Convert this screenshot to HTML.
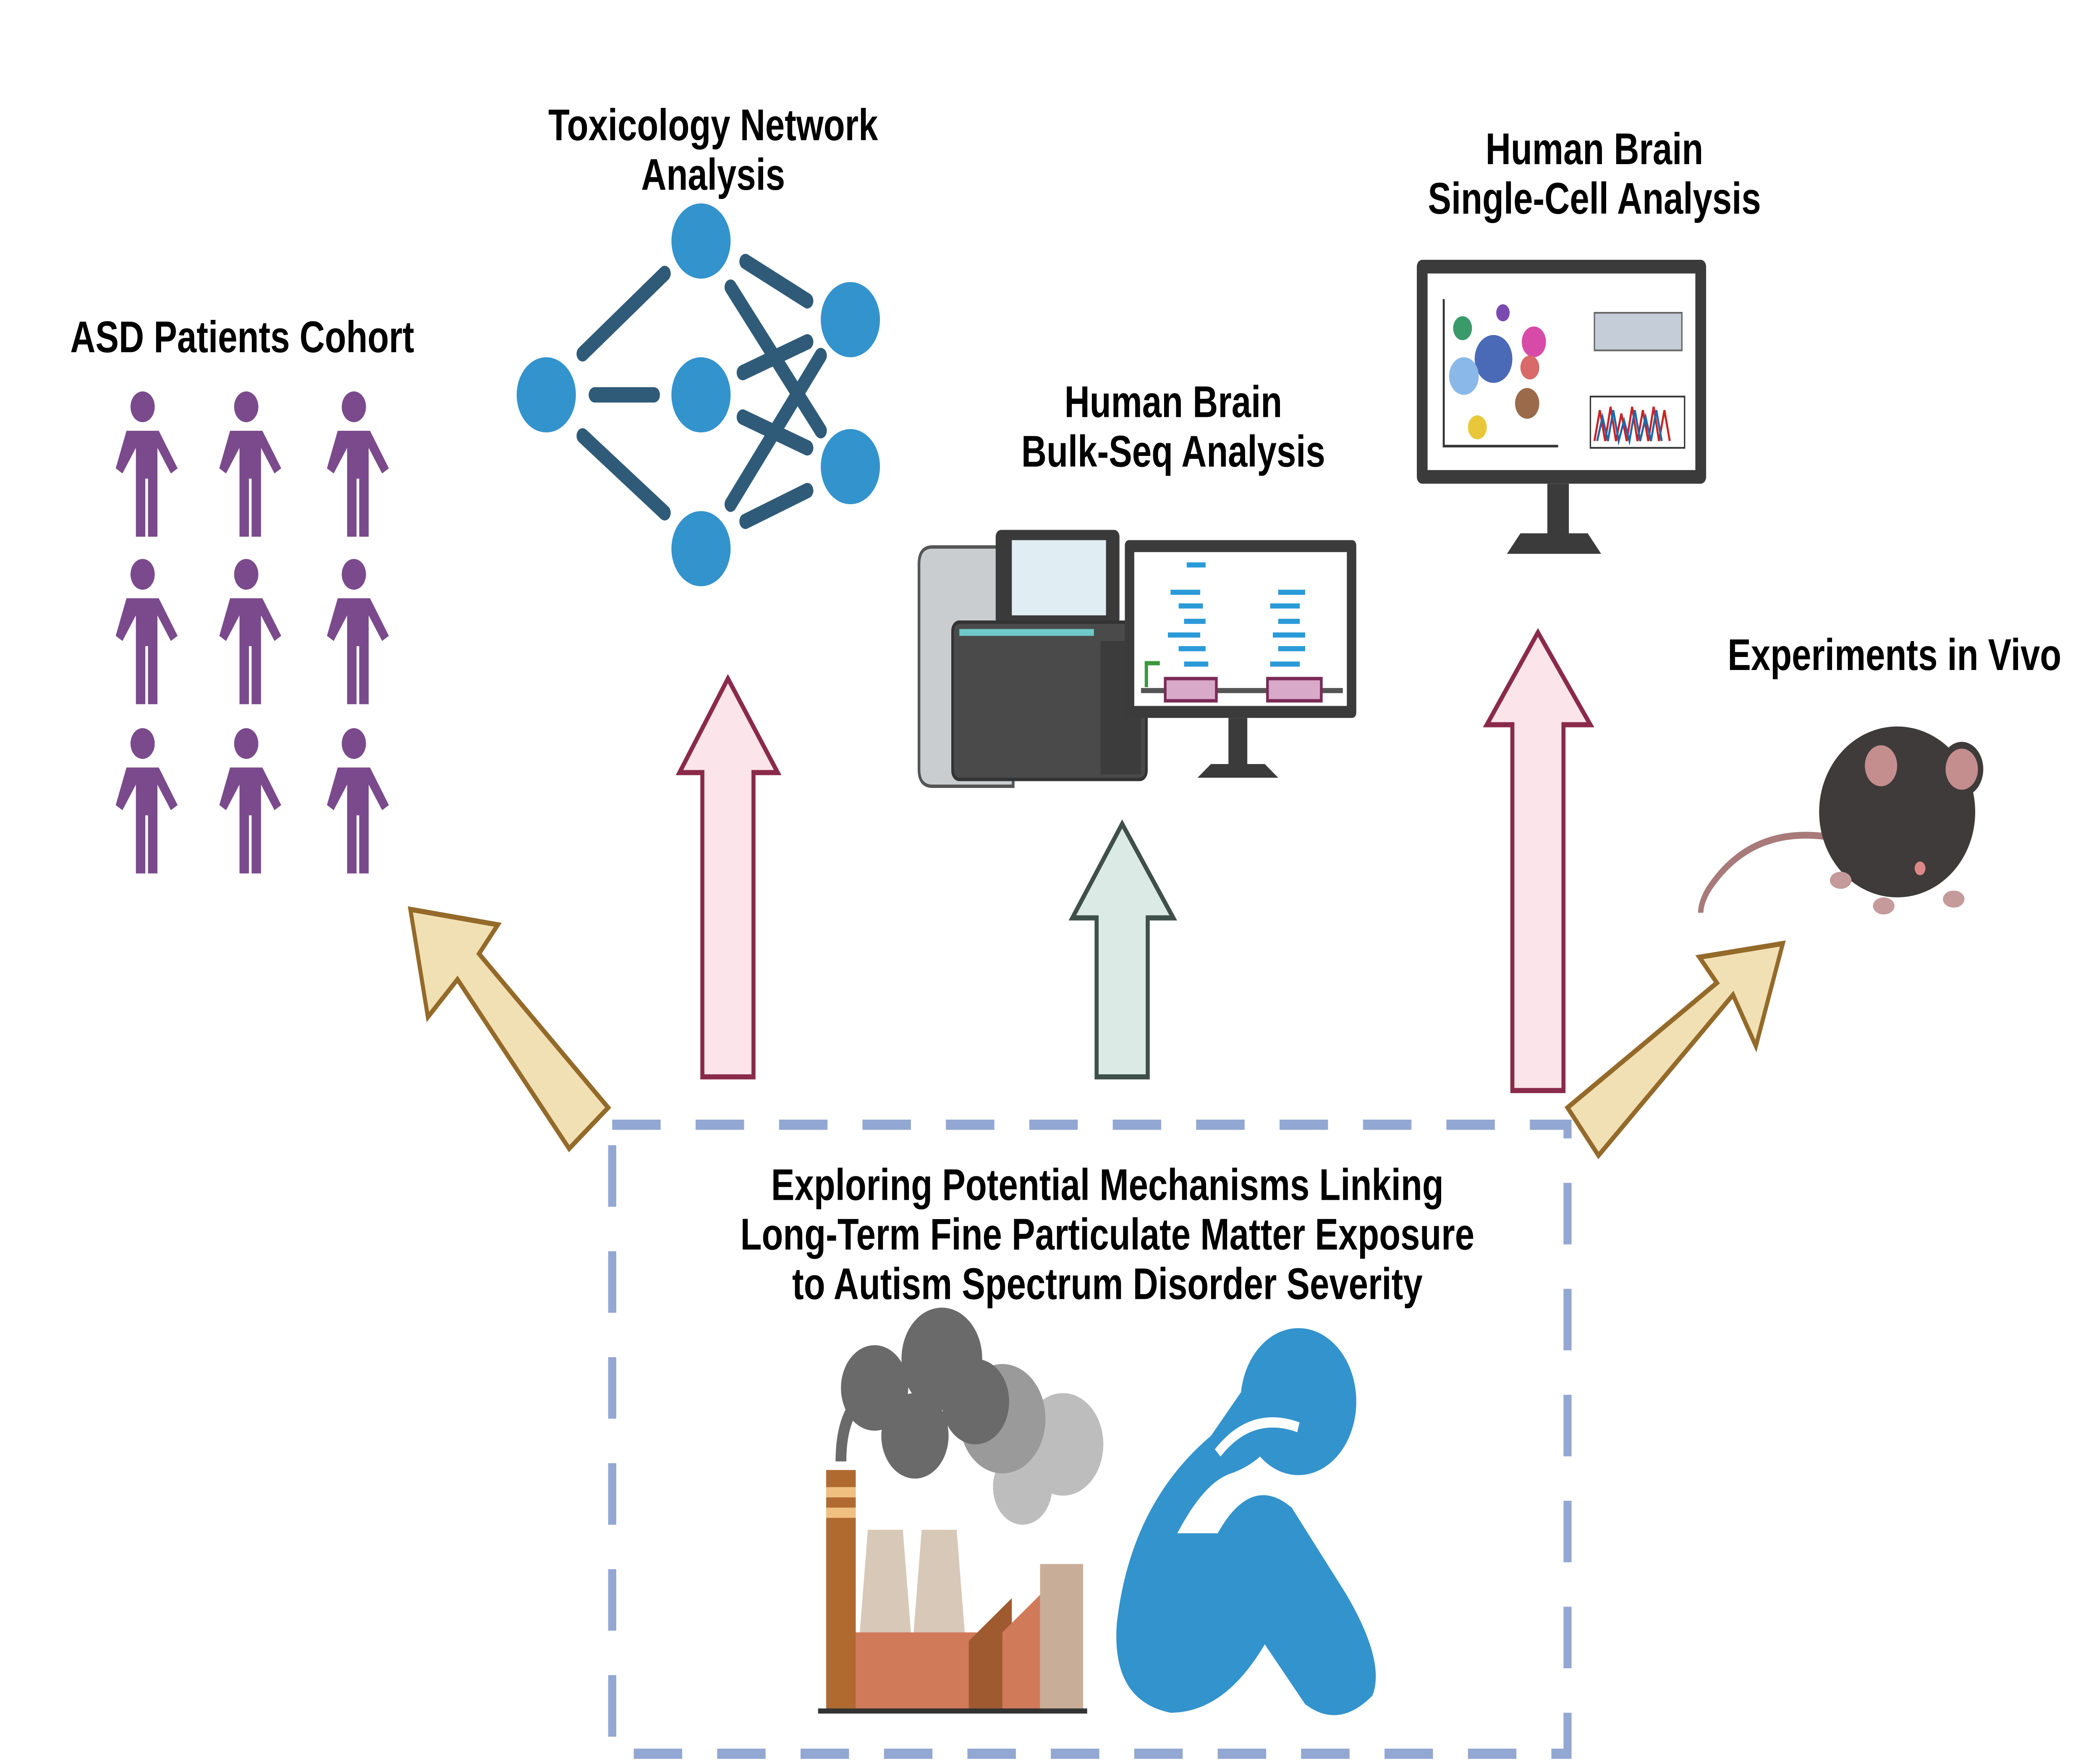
<!DOCTYPE html>
<html><head><meta charset="utf-8"><style>
html,body{margin:0;padding:0;background:#fff;width:100vw;height:100vh;overflow:hidden;}
svg{display:block;width:100vw;height:100vh;}
text{font-family:"Liberation Sans",sans-serif;font-weight:bold;fill:#000;text-anchor:middle;}
</style></head><body>
<svg viewBox="0 0 1560 1032" preserveAspectRatio="none" xmlns="http://www.w3.org/2000/svg">
<defs>
<g id="p">
<circle cx="0" cy="-2" r="9" fill="#7a4a8c"/>
<path d="M-12,12 h24 l14,22 l-5,3 l-10,-15 v52 h-7 v-34 h-2 v34 h-7 v-52 l-10,15 l-5,-3 z" fill="#7a4a8c"/>
</g>
</defs>
<rect width="1560" height="1032" fill="#fff"/>
<text x="180" y="206" font-size="26">ASD Patients Cohort</text>
<g>
<use href="#p" x="106" y="240"/><use href="#p" x="183" y="240"/><use href="#p" x="263" y="240"/>
<use href="#p" x="106" y="338"/><use href="#p" x="183" y="338"/><use href="#p" x="263" y="338"/>
<use href="#p" x="106" y="437"/><use href="#p" x="183" y="437"/><use href="#p" x="263" y="437"/>
</g>
<text x="530" y="82" font-size="26">Toxicology Network</text>
<text x="530" y="111" font-size="26">Analysis</text>
<g stroke="#2f5b78" stroke-width="9" stroke-linecap="round">
<line x1="433" y1="207" x2="494" y2="160"/>
<line x1="442" y1="231" x2="486" y2="231"/>
<line x1="433" y1="255" x2="494" y2="300"/>
<line x1="554" y1="153" x2="600" y2="176"/>
<line x1="543" y1="168" x2="610" y2="252"/>
<line x1="552" y1="218" x2="600" y2="200"/>
<line x1="552" y1="244" x2="600" y2="262"/>
<line x1="543" y1="295" x2="610" y2="208"/>
<line x1="554" y1="305" x2="600" y2="287"/>
</g>
<g fill="#3393cd">
<circle cx="406" cy="231" r="22"/><circle cx="521" cy="141" r="22"/><circle cx="521" cy="231" r="22"/>
<circle cx="521" cy="321" r="22"/><circle cx="632" cy="187" r="22"/><circle cx="632" cy="273" r="22"/>
</g>
<text x="872" y="244" font-size="26">Human Brain</text>
<text x="872" y="273" font-size="26">Bulk-Seq Analysis</text>
<path d="M683,330 q0,-10 10,-10 h60 v140 h-60 q-10,0 -10,-10 z" fill="#c9cdd0" stroke="#555" stroke-width="2"/>
<rect x="740" y="310" width="92" height="56" rx="4" fill="#3a3a3a"/>
<rect x="752" y="316" width="70" height="44" fill="#e0eef3"/>
<rect x="708" y="364" width="144" height="92" rx="5" fill="#4a4a4a" stroke="#333" stroke-width="2"/>
<rect x="713" y="368" width="100" height="4" fill="#6fc9c9"/>
<rect x="818" y="375" width="30" height="78" fill="#3c3c3c"/>
<rect x="836" y="316" width="172" height="104" rx="3" fill="#3b3b3b"/>
<rect x="843" y="323" width="158" height="90" fill="#fff"/>
<rect x="913" y="420" width="14" height="30" fill="#3b3b3b"/>
<path d="M890,455 l10,-8 h40 l10,8 z" fill="#3b3b3b"/>
<g fill="#2a9ad8">
<rect x="882" y="329" width="14" height="3"/><rect x="870" y="345" width="22" height="3"/><rect x="876" y="353" width="18" height="3"/>
<rect x="880" y="362" width="16" height="3"/><rect x="868" y="370" width="24" height="3"/><rect x="876" y="378" width="20" height="3"/>
<rect x="880" y="387" width="18" height="3"/><rect x="950" y="345" width="20" height="3"/><rect x="944" y="353" width="22" height="3"/>
<rect x="950" y="362" width="16" height="3"/><rect x="946" y="370" width="24" height="3"/><rect x="950" y="378" width="20" height="3"/><rect x="944" y="387" width="22" height="3"/>
</g>
<line x1="848" y1="404" x2="998" y2="404" stroke="#555" stroke-width="3"/>
<rect x="866" y="397" width="38" height="13" fill="#d8a9c9" stroke="#7a2a55" stroke-width="2"/>
<rect x="942" y="397" width="40" height="13" fill="#d8a9c9" stroke="#7a2a55" stroke-width="2"/>
<path d="M852,402 v-14 h10" stroke="#3a9a3a" stroke-width="2.5" fill="none"/>
<text x="1185" y="96" font-size="26">Human Brain</text>
<text x="1185" y="125" font-size="26">Single-Cell Analysis</text>
<rect x="1053" y="152" width="215" height="131" rx="4" fill="#3b3b3b"/>
<rect x="1061" y="160" width="199" height="115" fill="#fff"/>
<rect x="1150" y="283" width="16" height="30" fill="#3b3b3b"/>
<path d="M1120,324 l10,-12 h50 l10,12 z" fill="#3b3b3b"/>
<path d="M1073,175 v86 h85" stroke="#333" stroke-width="1.5" fill="none"/>
<g>
<circle cx="1087" cy="192" r="7" fill="#3a9a6a"/><circle cx="1117" cy="183" r="5" fill="#7a4ab0"/>
<circle cx="1110" cy="210" r="14" fill="#4a6ab8"/><circle cx="1088" cy="220" r="11" fill="#8ab8e8"/>
<circle cx="1140" cy="200" r="9" fill="#d84aa8"/><circle cx="1137" cy="215" r="7" fill="#d86a6a"/>
<circle cx="1135" cy="236" r="9" fill="#9a6a4a"/><circle cx="1098" cy="250" r="7" fill="#e8c83a"/>
</g>
<rect x="1185" y="183" width="65" height="22" fill="#c4cdd8" stroke="#666"/>
<rect x="1182" y="232" width="70" height="30" fill="#fff" stroke="#333"/>
<path d="M1185,258 l4,-18 l4,18 l4,-20 l4,20 l4,-16 l4,16 l4,-20 l4,20 l4,-18 l4,18 l4,-20 l4,20 l4,-18 l4,18" stroke="#c22" stroke-width="1.5" fill="none"/>
<path d="M1187,258 l4,-14 l4,14 l4,-18 l4,18 l4,-12 l4,12 l4,-18 l4,18 l4,-14 l4,14 l4,-18 l4,18" stroke="#26a" stroke-width="1.5" fill="none"/>
<text x="1408" y="392" font-size="26">Experiments in Vivo</text>
<path d="M1362,490 q-60,-8 -92,30 q-6,8 -6,14" stroke="#a87a7a" stroke-width="4" fill="none"/>
<ellipse cx="1410" cy="475" rx="58" ry="50" fill="#3f3b3b"/>
<circle cx="1398" cy="448" r="14" fill="#c58e8e" stroke="#3f3b3b" stroke-width="4"/>
<circle cx="1458" cy="450" r="14" fill="#c58e8e" stroke="#3f3b3b" stroke-width="4"/>
<circle cx="1427" cy="508" r="4" fill="#d88"/>
<g fill="#c59a9a"><ellipse cx="1368" cy="515" rx="8" ry="5"/><ellipse cx="1400" cy="530" rx="8" ry="5"/><ellipse cx="1452" cy="526" rx="8" ry="5"/></g>
<path d="M522,630 V452 H505 L541,397 L578,452 H560 V630 Z" fill="#fbe4ea" stroke="#8a2a4a" stroke-width="3"/>
<path d="M815,630 V537 H797 L834,482 L872,537 H853 V630 Z" fill="#dceae6" stroke="#3f4f4a" stroke-width="3"/>
<path d="M1124,638 V424 H1105 L1143,370 L1182,424 H1162 V638 Z" fill="#fbe4ea" stroke="#8a2a4a" stroke-width="3"/>
<path d="M452,648 L423,672 L340,573 L318,595 L305,532 L370,541 L356,558 Z" fill="#f1e0b4" stroke="#946a2a" stroke-width="3"/>
<path d="M1165,648 L1188,676 L1288,582 L1305,612 L1325,552 L1263,560 L1276,575 Z" fill="#f1e0b4" stroke="#946a2a" stroke-width="3"/>
<rect x="455" y="658" width="710" height="368" fill="none" stroke="#93a7d3" stroke-width="6" stroke-dasharray="36 26"/>
<text x="823" y="702" font-size="26">Exploring Potential Mechanisms Linking</text>
<text x="823" y="731" font-size="26">Long-Term Fine Particulate Matter Exposure</text>
<text x="823" y="760" font-size="26">to Autism Spectrum Disorder Severity</text>
<g><circle cx="790" cy="845" r="30" fill="#bdbdbd"/><circle cx="760" cy="870" r="22" fill="#bdbdbd"/><circle cx="745" cy="830" r="32" fill="#9a9a9a"/></g>
<g fill="#6a6a6a"><circle cx="650" cy="812" r="25"/><circle cx="700" cy="795" r="30"/><circle cx="725" cy="820" r="25"/><circle cx="680" cy="840" r="25"/></g>
<path d="M625,855 q0,-30 20,-40" stroke="#6a6a6a" stroke-width="8" fill="none"/>
<rect x="614" y="860" width="22" height="140" fill="#b06a30"/>
<rect x="614" y="870" width="22" height="6" fill="#f0c080"/><rect x="614" y="882" width="22" height="6" fill="#f0c080"/>
<path d="M645,895 h26 l6,60 h-38 z" fill="#d8c8b8"/>
<path d="M685,895 h26 l6,60 h-38 z" fill="#d8c8b8"/>
<rect x="636" y="955" width="90" height="45" fill="#d07a5a"/>
<path d="M720,1000 V960 l32,-25 V1000 z" fill="#a05a30"/>
<path d="M745,1000 V955 l28,-22 V1000 z" fill="#d07a5a"/>
<rect x="773" y="915" width="32" height="85" fill="#c8ae98"/>
<line x1="608" y1="1001" x2="808" y2="1001" stroke="#333" stroke-width="3"/>
<circle cx="965" cy="820" r="43" fill="#3393cd"/>
<path d="M900,840 q-60,40 -70,110 q-4,45 40,52 q40,0 70,-40 l30,35 q25,15 50,-5 q10,-20 -20,-60 l-40,-50 q-30,-20 -55,15 l-30,0 q20,-30 40,-35 q35,-10 40,-40 q5,-25 -20,-22 z" fill="#3393cd"/>
<path d="M905,850 q25,-25 60,-15" stroke="#fff" stroke-width="6" fill="none"/>
</svg>
</body></html>
